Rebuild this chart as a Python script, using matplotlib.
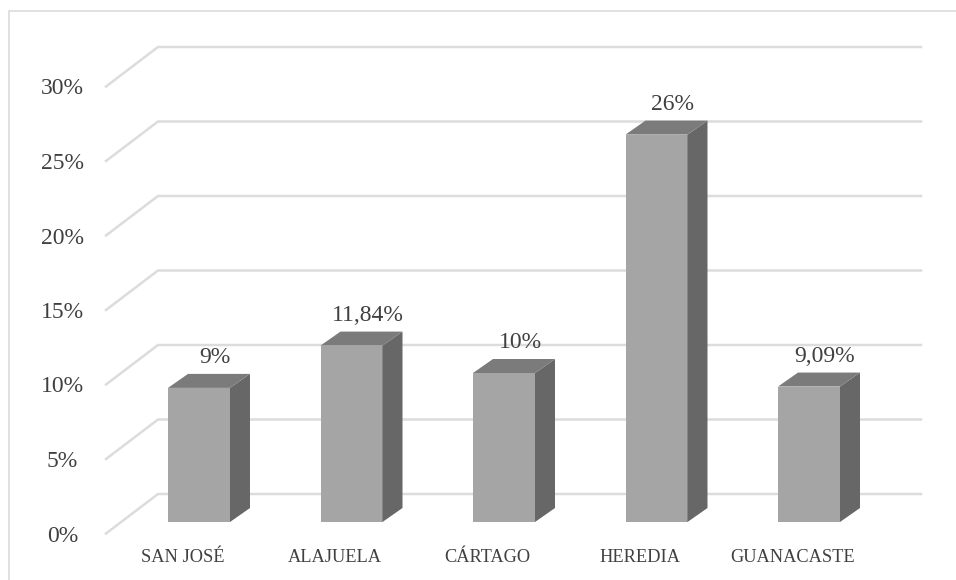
import matplotlib
matplotlib.use("Agg")
import matplotlib.pyplot as plt
from matplotlib.patches import Polygon

plt.rcParams['font.family'] = ['Liberation Serif', 'DejaVu Serif']

categories = ["SAN JOSÉ", "ALAJUELA", "CÁRTAGO", "HEREDIA", "GUANACASTE"]
values = [9, 11.84, 10, 26, 9.09]
value_labels = ["9%", "11,84%", "10%", "26%", "9,09%"]
ticks = [0, 5, 10, 15, 20, 25, 30]

W, H = 956, 580
# pixels per category and per percent
px_cat = 152.5
px_pct = 14.9
x0 = 199
y0 = 522

fig = plt.figure(figsize=(W / 100, H / 100), dpi=100)
ax = fig.add_axes([0, 0, 1, 1])
ax.set_xlim(-x0 / px_cat, (W - x0) / px_cat)
ax.set_ylim((y0 - H) / px_pct, y0 / px_pct)
ax.axis("off")

# 3d offsets in data units
wall_dx = 52 / px_cat
wall_dy = 39.5 / px_pct
wall_x = -41 / px_cat
right_x = 722 / px_cat
bar_w = 31 / px_cat
bar_dx = 20 / px_cat
bar_dy = 14 / px_pct
floor_y = 11.5 / px_pct

# outer frame, runs off the right and bottom of the picture
ax.add_patch(plt.Rectangle(((9 - x0) / px_cat, (y0 - 600) / px_pct), 1000 / px_cat, 589 / px_pct,
                           fill=False, ec="#dcdcdc", lw=1.2, clip_on=True))

for t in ticks:
    y = t - floor_y
    ax.plot([wall_x - wall_dx, wall_x, right_x], [y, y + wall_dy, y + wall_dy],
            color="#dcdcdc", lw=1.8, zorder=1, solid_joinstyle="miter")
    ax.text((62.5 - x0) / px_cat, y - 2.5 / px_pct, f"{t}%", ha="center", va="center", fontsize=17, color="#404040")

for i, v in enumerate(values):
    l, r = i - bar_w, i + bar_w
    ax.add_patch(Polygon([(l, 0), (r, 0), (r, v), (l, v)], fc="#a5a5a5", ec="none", zorder=3))
    ax.add_patch(Polygon([(r, 0), (r + bar_dx, bar_dy), (r + bar_dx, v + bar_dy), (r, v)], fc="#676767", ec="none", zorder=3))
    ax.add_patch(Polygon([(l, v), (r, v), (r + bar_dx, v + bar_dy), (l + bar_dx, v + bar_dy)], fc="#7b7b7b", ec="none", zorder=3))
    ax.text(i + 16 / px_cat, v + bar_dy + 6 / px_pct, value_labels[i], ha="center", va="bottom", fontsize=17, color="#404040", zorder=4)
    ax.text(i - 16.5 / px_cat, -35 / px_pct, categories[i], ha="center", va="center", fontsize=13.2, color="#404040")

fig.savefig("out.png", dpi=100)
